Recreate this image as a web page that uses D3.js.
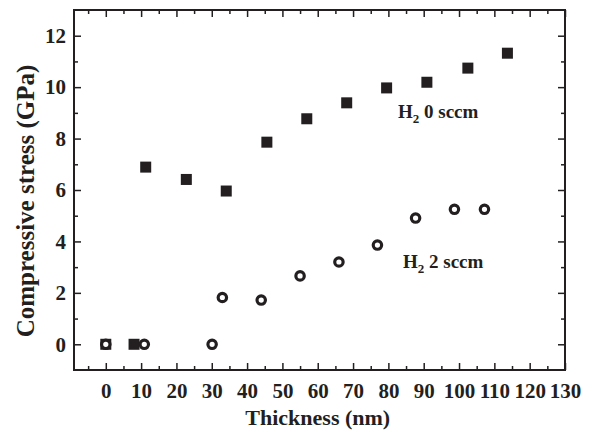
<!DOCTYPE html>
<html>
<head>
<meta charset="utf-8">
<script src="https://cdn.jsdelivr.net/npm/d3@7/dist/d3.min.js"></script>
<style>
  body { margin: 0; background: #fff; }
  svg text { font-family: "Liberation Serif", "Times New Roman", serif; font-weight: bold; fill: #231f20; }
</style>
</head>
<body>
<svg id="chart" width="592" height="433"></svg>
<script>
// H2 0 sccm (filled squares)
var sq_x = [0, 8, 11.3, 22.8, 34.1, 45.6, 56.9, 68.2, 79.5, 90.9, 102.5, 113.7];
var sq_y = [0, 0, 6.89, 6.41, 5.96, 7.86, 8.77, 9.39, 9.97, 10.19, 10.74, 11.32];
// H2 2 sccm (open circles)
var ci_x = [0, 10.9, 30.1, 33.0, 44.0, 55.0, 66.0, 76.9, 87.7, 98.7, 107.2];
var ci_y = [0, 0, 0, 1.82, 1.72, 2.66, 3.2, 3.86, 4.91, 5.25, 5.25];

var xTicks = d3.range(0, 131, 10);
var yTicks = d3.range(0, 13, 2);

var svg = d3.select("#chart");
var margin = { top: 10, right: 27, bottom: 63, left: 74 };
var width = 592 - margin.left - margin.right;
var height = 433 - margin.top - margin.bottom;
var ink = "#231f20";

var g = svg.append("g")
  .attr("transform", "translate(" + margin.left + "," + margin.top + ")");

var x = d3.scaleLinear().domain([-9, 130]).range([0, width]);
var y = d3.scaleLinear().domain([-1, 13]).range([height, 0]);

// minor ticks
var xMinor = d3.range(-5, 130, 10);
var yMinor = d3.range(1, 13, 2);

function styleAxis(sel) {
  sel.selectAll("path").remove();
  sel.selectAll("line").attr("stroke", ink).attr("stroke-width", 1.5);
  sel.selectAll("text").attr("font-size", "21px").attr("fill", ink);
}

// bottom axis
g.append("g")
  .attr("transform", "translate(0," + height + ")")
  .call(d3.axisBottom(x).tickValues(xTicks).tickSize(-7).tickPadding(13))
  .call(styleAxis);
g.append("g")
  .attr("transform", "translate(0," + height + ")")
  .call(d3.axisBottom(x).tickValues(xMinor).tickSize(-4).tickFormat(""))
  .call(styleAxis);
// top axis
g.append("g")
  .call(d3.axisTop(x).tickValues(xTicks).tickSize(-7).tickFormat(""))
  .call(styleAxis);
g.append("g")
  .call(d3.axisTop(x).tickValues(xMinor).tickSize(-4).tickFormat(""))
  .call(styleAxis);
// left axis
g.append("g")
  .call(d3.axisLeft(y).tickValues(yTicks).tickSize(-7).tickPadding(8))
  .call(styleAxis);
g.append("g")
  .call(d3.axisLeft(y).tickValues(yMinor).tickSize(-4).tickFormat(""))
  .call(styleAxis);
// right axis
g.append("g")
  .attr("transform", "translate(" + width + ",0)")
  .call(d3.axisRight(y).tickValues(yTicks).tickSize(-7).tickFormat(""))
  .call(styleAxis);
g.append("g")
  .attr("transform", "translate(" + width + ",0)")
  .call(d3.axisRight(y).tickValues(yMinor).tickSize(-4).tickFormat(""))
  .call(styleAxis);

// frame
g.append("rect")
  .attr("x", 0).attr("y", 0)
  .attr("width", width).attr("height", height)
  .attr("fill", "none")
  .attr("stroke", ink)
  .attr("stroke-width", 2);

// squares
var s = 11;
g.selectAll(".sq")
  .data(sq_x.map(function (d, i) { return [d, sq_y[i]]; }))
  .enter().append("rect")
  .attr("class", "sq")
  .attr("x", function (d) { return x(d[0]) - s / 2; })
  .attr("y", function (d) { return y(d[1]) - s / 2; })
  .attr("width", s).attr("height", s)
  .attr("fill", ink);

// circles
g.selectAll(".ci")
  .data(ci_x.map(function (d, i) { return [d, ci_y[i]]; }))
  .enter().append("circle")
  .attr("class", "ci")
  .attr("cx", function (d) { return x(d[0]); })
  .attr("cy", function (d) { return y(d[1]); })
  .attr("r", 4.2)
  .attr("fill", "#fff")
  .attr("stroke", ink)
  .attr("stroke-width", 3.2);

// annotations
function h2label(px, py, rest) {
  var t = svg.append("text")
    .attr("x", px).attr("y", py)
    .attr("font-size", "19px");
  t.append("tspan").text("H");
  t.append("tspan").attr("font-size", "13px").attr("dy", 5).text("2");
  t.append("tspan").attr("dy", -5).text(" " + rest);
}
h2label(398, 118, "0 sccm");
h2label(403, 268, "2 sccm");

// axis titles
svg.append("text")
  .attr("x", margin.left + x(60))
  .attr("y", 425)
  .attr("text-anchor", "middle")
  .attr("font-size", "22px")
  .text("Thickness (nm)");

svg.append("text")
  .attr("transform", "translate(34," + 201 + ") rotate(-90)")
  .attr("text-anchor", "middle")
  .attr("font-size", "25px")
  .text("Compressive stress (GPa)");
</script>
</body>
</html>
